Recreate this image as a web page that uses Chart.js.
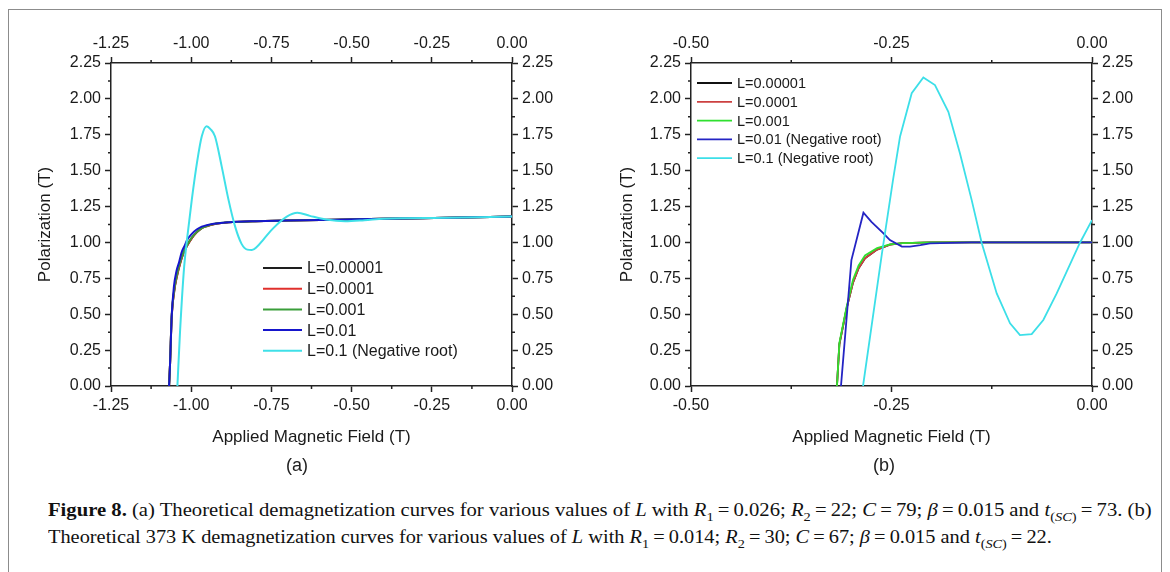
<!DOCTYPE html>
<html>
<head>
<meta charset="utf-8">
<script src="https://cdn.jsdelivr.net/npm/chart.js@4/dist/chart.umd.min.js"></script>
<style>
  body { margin: 0; background: #fff; width: 1170px; height: 572px; overflow: hidden; position: relative; }
  .frame { position: absolute; left: 8px; top: 9px; width: 1152px; height: 600px; border: 1.5px solid #8c8c8c; }
  .panel { position: absolute; top: 0; }
  .tag { position: absolute; top: 455px; font: 18px "Liberation Sans", Arial, sans-serif; color: #222; transform: translateX(-50%); }
  .cap { position: absolute; left: 48px; white-space: nowrap; font: 18px "Liberation Serif", "Times New Roman", serif; color: #111; line-height: 20px; transform-origin: 0 0; }
  .cap sub { font-size: 70%; line-height: 0; }
</style>
</head>
<body>
<div class="frame"></div>
<div class="panel" style="left:0"><canvas id="chartA" width="585" height="460"></canvas></div>
<div class="panel" style="left:580px"><canvas id="chartB" width="590" height="460"></canvas></div>
<div class="tag" style="left:297px">(a)</div>
<div class="tag" style="left:884px">(b)</div>
<div class="cap" id="cap1" style="top:500px"><b>Figure 8.</b> (a) Theoretical demagnetization curves for various values of <i>L</i> with <i>R</i><sub>1</sub>&#8201;=&#8201;0.026; <i>R</i><sub>2</sub>&#8201;=&#8201;22; <i>C</i>&#8201;=&#8201;79; <i>β</i>&#8201;=&#8201;0.015 and <i>t</i><sub>(<i>SC</i>)</sub>&#8201;=&#8201;73. (b)</div>
<div class="cap" id="cap2" style="top:527px">Theoretical 373 K demagnetization curves for various values of <i>L</i> with <i>R</i><sub>1</sub>&#8201;=&#8201;0.014; <i>R</i><sub>2</sub>&#8201;=&#8201;30; <i>C</i>&#8201;=&#8201;67; <i>β</i>&#8201;=&#8201;0.015 and <i>t</i><sub>(<i>SC</i>)</sub>&#8201;=&#8201;22.</div>

<script>
// ---- panel (a) data ----
const seriesLabelsA = ['L=0.00001', 'L=0.0001', 'L=0.001', 'L=0.01', 'L=0.1 (Negative root)'];
const fieldA_L5 = [-1.069, -1.066, -1.061, -1.053, -1.044, -1.035, -1.025, -1.012, -0.998, -0.983, -0.967, -0.950, -0.930, -0.900, -0.870, -0.800, -0.700, -0.550, -0.400, -0.200, 0];
const polA_L5   = [0, 0.15, 0.47, 0.66, 0.77, 0.85, 0.92, 0.98, 1.03, 1.07, 1.10, 1.115, 1.127, 1.136, 1.142, 1.148, 1.152, 1.158, 1.165, 1.172, 1.18];
const fieldA_L4 = [-1.069, -1.066, -1.061, -1.053, -1.044, -1.035, -1.025, -1.012, -0.998, -0.983, -0.967, -0.950, -0.930, -0.900, -0.870, -0.800, -0.700, -0.550, -0.400, -0.200, 0];
const polA_L4   = [0, 0.15, 0.47, 0.66, 0.77, 0.85, 0.92, 0.98, 1.03, 1.07, 1.10, 1.115, 1.127, 1.136, 1.142, 1.148, 1.152, 1.158, 1.165, 1.172, 1.18];
const fieldA_L3 = [-1.069, -1.066, -1.061, -1.053, -1.044, -1.035, -1.025, -1.012, -0.998, -0.983, -0.967, -0.950, -0.930, -0.900, -0.870, -0.800, -0.700, -0.550, -0.400, -0.200, 0];
const polA_L3   = [0, 0.15, 0.48, 0.67, 0.78, 0.86, 0.925, 0.985, 1.035, 1.072, 1.10, 1.116, 1.128, 1.137, 1.142, 1.148, 1.152, 1.158, 1.165, 1.172, 1.18];
const fieldA_L2 = [-1.069, -1.066, -1.061, -1.054, -1.046, -1.038, -1.030, -1.020, -1.012, -0.998, -0.983, -0.967, -0.952, -0.930, -0.900, -0.870, -0.800, -0.700, -0.550, -0.400, -0.200, 0];
const polA_L2   = [0, 0.15, 0.48, 0.69, 0.80, 0.86, 0.93, 0.98, 1.02, 1.06, 1.09, 1.11, 1.12, 1.13, 1.137, 1.143, 1.148, 1.152, 1.158, 1.165, 1.172, 1.18];
const fieldA_L1 = [-1.043, -1.035, -1.022, -1.012, -0.998, -0.981, -0.967, -0.952, -0.940, -0.926, -0.905, -0.884, -0.863, -0.843, -0.825, -0.811, -0.795, -0.775, -0.744, -0.702, -0.669, -0.630, -0.580, -0.520, -0.460, -0.400, -0.200, 0];
const polA_L1   = [0, 0.37, 0.83, 1.04, 1.30, 1.57, 1.74, 1.81, 1.79, 1.74, 1.53, 1.30, 1.11, 0.99, 0.95, 0.947, 0.97, 1.02, 1.10, 1.18, 1.207, 1.185, 1.16, 1.148, 1.155, 1.165, 1.172, 1.18];

// ---- panel (b) data ----
const seriesLabelsB = ['L=0.00001', 'L=0.0001', 'L=0.001', 'L=0.01 (Negative root)', 'L=0.1 (Negative root)'];
const fieldB_L5 = [-0.318, -0.315, -0.306, -0.298, -0.291, -0.283, -0.268, -0.252, -0.236, -0.200, -0.100, 0];
const polB_L5   = [0, 0.29, 0.54, 0.72, 0.82, 0.89, 0.95, 0.985, 0.995, 1.0, 1.0, 1.0];
const fieldB_L4 = [-0.318, -0.315, -0.306, -0.298, -0.291, -0.283, -0.268, -0.252, -0.236, -0.200, -0.100, 0];
const polB_L4   = [0, 0.29, 0.54, 0.72, 0.82, 0.89, 0.95, 0.985, 0.995, 1.0, 1.0, 1.0];
const fieldB_L3 = [-0.318, -0.315, -0.306, -0.298, -0.291, -0.283, -0.268, -0.252, -0.236, -0.200, -0.100, 0];
const polB_L3   = [0, 0.30, 0.55, 0.74, 0.84, 0.91, 0.96, 0.987, 0.995, 1.0, 1.0, 1.0];
const fieldB_L2 = [-0.313, -0.300, -0.285, -0.275, -0.260, -0.252, -0.237, -0.227, -0.214, -0.202, -0.150, 0];
const polB_L2   = [0, 0.877, 1.207, 1.144, 1.063, 1.017, 0.971, 0.971, 0.982, 0.994, 1.0, 1.0];
const fieldB_L1 = [-0.2855, -0.262, -0.248, -0.2394, -0.2248, -0.2103, -0.1958, -0.1791, -0.1646, -0.150, -0.1375, -0.1188, -0.1022, -0.0898, -0.0752, -0.0607, -0.044, -0.015, 0];
const polB_L1   = [0, 0.92, 1.44, 1.736, 2.04, 2.149, 2.096, 1.91, 1.62, 1.295, 0.996, 0.645, 0.437, 0.355, 0.362, 0.46, 0.645, 0.998, 1.156];

// ---- ticks ----
const xTicksA = [-1.25, -1.00, -0.75, -0.50, -0.25, 0.00];
const xTickLabelsA = ['-1.25', '-1.00', '-0.75', '-0.50', '-0.25', '0.00'];
const xMinorA = [-1.125, -0.875, -0.625, -0.375, -0.125];
const xTicksB = [-0.50, -0.25, 0.00];
const xTickLabelsB = ['-0.50', '-0.25', '0.00'];
const xMinorB = [-0.375, -0.125];
const yTicks = [0, 0.25, 0.5, 0.75, 1.0, 1.25, 1.5, 1.75, 2.0, 2.25];
const yTickLabels = ['0.00', '0.25', '0.50', '0.75', '1.00', '1.25', '1.50', '1.75', '2.00', '2.25'];
const yMinor = [0.125, 0.375, 0.625, 0.875, 1.125, 1.375, 1.625, 1.875, 2.125];

const colorsA = ['#1e1e1e', '#e0302c', '#3a9e3a', '#1616cc', '#3fe0e8'];
const colorsB = ['#111111', '#cc4040', '#2fe02f', '#2424c4', '#3cdfe8'];
const drawOrder = [4, 3, 2, 1, 0];   // cyan on top, then blue...
const AXIS = '#222';
const TXT = '#1a1a1a';
const FONT = '"Liberation Sans", Arial, sans-serif';

function pairs(xs, ys) {
    return xs.map((x, i) => ({ x: x, y: ys[i] }));
}

// small legend drawn inside the plot, from the datasets themselves
const insetLegend = {
    id: 'insetLegend',
    afterDraw(chart, args, opts) {
        const ctx = chart.ctx;
        ctx.save();
        ctx.font = opts.fontSize + 'px ' + FONT;
        ctx.textBaseline = 'middle';
        chart.data.datasets.forEach((ds, i) => {
            const y = opts.y + i * opts.rowHeight;
            ctx.strokeStyle = ds.borderColor;
            ctx.lineWidth = opts.lineWidth;
            ctx.beginPath();
            ctx.moveTo(opts.x, y);
            ctx.lineTo(opts.x + opts.lineLength, y);
            ctx.stroke();
            ctx.fillStyle = TXT;
            ctx.fillText(ds.label, opts.x + opts.lineLength + opts.gap, y + 1);
        });
        ctx.restore();
    }
};

// minor ticks between the labelled ones
const minorTicks = {
    id: 'minorTicks',
    afterDraw(chart, args, opts) {
        const ctx = chart.ctx;
        const a = chart.chartArea;
        ctx.save();
        ctx.strokeStyle = AXIS;
        ctx.lineWidth = 1.5;
        ctx.beginPath();
        opts.x.forEach(v => {
            const px = chart.scales.x.getPixelForValue(v);
            ctx.moveTo(px, a.bottom); ctx.lineTo(px, a.bottom + 3);
            ctx.moveTo(px, a.top); ctx.lineTo(px, a.top - 3);
        });
        opts.y.forEach(v => {
            const py = chart.scales.y.getPixelForValue(v);
            ctx.moveTo(a.left, py); ctx.lineTo(a.left - 3, py);
            ctx.moveTo(a.right, py); ctx.lineTo(a.right + 3, py);
        });
        ctx.stroke();
        ctx.restore();
    }
};

function axis(position, min, max, ticks, labels, size, title, titlePad) {
    const horizontal = position === 'top' || position === 'bottom';
    const cfg = {
        type: 'linear',
        position: position,
        min: min,
        max: max,
        afterBuildTicks: s => { s.ticks = ticks.map(v => ({ value: v })); },
        afterFit: s => { if (horizontal) s.height = size; else s.width = size; },
        ticks: {
            callback: (v, i) => labels[i],
            font: { family: FONT, size: 16 },
            color: TXT,
            padding: 4,
            maxRotation: 0,
            autoSkip: false
        },
        grid: { drawOnChartArea: false, drawTicks: true, tickLength: 6, tickColor: AXIS, tickWidth: 1.5 },
        border: { display: true, color: AXIS, width: 1.5 },
        title: { display: false }
    };
    if (title) {
        cfg.title = {
            display: true, text: title, color: TXT,
            font: { family: FONT, size: 17 },
            padding: horizontal ? { top: 0, bottom: titlePad } : { top: titlePad, bottom: 0 }
        };
    }
    return cfg;
}

function makeChart(id, fields, pols, labels, colors, lineWidth, tension, xMin, xTicks, xLabels, xMinor, sizes, legend) {
    const datasets = labels.map((lab, i) => ({
        label: lab,
        data: pairs(fields[i], pols[i]),
        borderColor: colors[i],
        borderWidth: lineWidth,
        pointRadius: 0,
        tension: tension,
        cubicInterpolationMode: tension ? 'monotone' : 'default',
        order: drawOrder[i],
        fill: false
    }));
    return new Chart(document.getElementById(id), {
        type: 'line',
        data: { datasets: datasets },
        options: {
            responsive: false,
            animation: false,
            layout: { padding: 0 },
            plugins: {
                legend: { display: false },
                tooltip: { enabled: false },
                insetLegend: legend,
                minorTicks: { x: xMinor, y: yMinor }
            },
            scales: {
                x: axis('bottom', xMin, 0, xTicks, xLabels, sizes.bottom, 'Applied Magnetic Field (T)', 12),
                x2: axis('top', xMin, 0, xTicks, xLabels, sizes.top),
                y: axis('left', 0, 2.25, yTicks, yTickLabels, sizes.left, 'Polarization (T)', sizes.titleLeft),
                y2: axis('right', 0, 2.25, yTicks, yTickLabels, sizes.right)
            }
        },
        plugins: [insetLegend, minorTicks]
    });
}

// squeeze each caption line to the width it has in the figure
function fitCaption(id, target) {
    const el = document.getElementById(id);
    const w = el.scrollWidth;
    el.style.transform = 'scaleX(' + (target / w) + ')';
}

document.addEventListener('DOMContentLoaded', function() {
    makeChart('chartA',
        [fieldA_L5, fieldA_L4, fieldA_L3, fieldA_L2, fieldA_L1],
        [polA_L5, polA_L4, polA_L3, polA_L2, polA_L1],
        seriesLabelsA, colorsA, 2, 0.4, -1.25, xTicksA, xTickLabelsA, xMinorA,
        { left: 111, right: 73, top: 63, bottom: 74, titleLeft: 35 },
        { x: 263, y: 268, rowHeight: 20.7, lineLength: 39, gap: 5, fontSize: 16, lineWidth: 2 });

    makeChart('chartB',
        [fieldB_L5, fieldB_L4, fieldB_L3, fieldB_L2, fieldB_L1],
        [polB_L5, polB_L4, polB_L3, polB_L2, polB_L1],
        seriesLabelsB, colorsB, 1.8, 0, -0.5, xTicksB, xTickLabelsB, xMinorB,
        { left: 111, right: 78, top: 63, bottom: 74, titleLeft: 37 },
        { x: 117, y: 83, rowHeight: 18.8, lineLength: 35, gap: 5, fontSize: 14.5, lineWidth: 1.8 });

    fitCaption('cap1', 1104);
    fitCaption('cap2', 1004);
});
</script>
</body>
</html>
